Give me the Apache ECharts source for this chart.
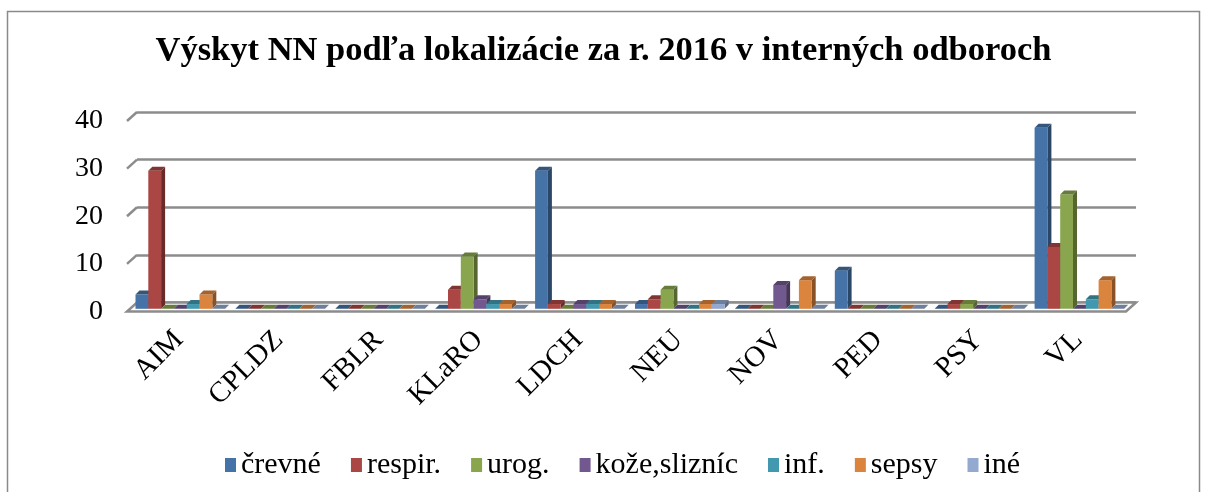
<!DOCTYPE html>
<html>
<head>
<meta charset="UTF-8">
<title>Výskyt NN</title>
<script src="https://cdn.jsdelivr.net/npm/echarts@6/dist/echarts.min.js"></script>
<style>
  html, body { margin: 0; padding: 0; background: #fff; }
  #chart { width: 1207px; height: 492px; }
</style>
</head>
<body>
<div id="chart"></div>
<script>
// data
var categories = ['AIM', 'CPLDZ', 'FBLR', 'KLaRO', 'LDCH', 'NEU', 'NOV', 'PED', 'PSY', 'VL'];
var seriesNames = ['črevné', 'respir.', 'urog.', 'kože,slizníc', 'inf.', 'sepsy', 'iné'];
var crevne   = [3, 0, 0, 0, 29, 1, 0, 8, 0, 38];
var respir   = [29, 0, 0, 4, 1, 2, 0, 0, 1, 13];
var urog     = [0, 0, 0, 11, 0, 4, 0, 0, 1, 24];
var koze     = [0, 0, 0, 2, 1, 0, 5, 0, 0, 0];
var inf      = [1, 0, 0, 1, 1, 0, 0, 0, 0, 2];
var sepsy    = [3, 0, 0, 1, 1, 1, 6, 0, 0, 6];
var ine      = [0, 0, 0, 0, 0, 1, 0, 0, 0, 0];
var yTicks   = [0, 10, 20, 30, 40];

var allValues = [crevne, respir, urog, koze, inf, sepsy, ine];
var colors = ['#4572A7', '#AA4643', '#89A54E', '#71588F', '#4198AF', '#DB843D', '#93A9CF'];

var FONT = '"Liberation Serif", "DejaVu Serif", serif';
var FX = 10, FY = 9;      // floor depth (front is shifted left/down)
var BX = 4, BY = 4;       // bar depth
var BW = 12.8;            // bar width
var GROUP_OFF = 5;        // offset of first bar inside category (back coords)

function shade(hex, k) {
    var c = echarts.color.parse(hex);
    return 'rgb(' + Math.round(c[0] * k) + ',' + Math.round(c[1] * k) + ',' + Math.round(c[2] * k) + ')';
}

function barRenderer(si) {
    return function (params, api) {
        var cat = api.value(0), v = api.value(1);
        var base = api.coord([cat, 0]);
        var top = api.coord([cat, v]);
        var band = api.size([1, 0])[0];
        var fx = FX * 0.65, fy = FY * 0.7;
        var x0 = base[0] - band / 2 + GROUP_OFF + si * BW - fx;
        var x1 = x0 + BW;
        var yb = base[1] + fy;
        var yt = top[1] + fy;
        var col = colors[si];
        var children = [];
        if (yb - yt > 0.5) {
            children.push({
                type: 'polygon',
                shape: { points: [[x1, yb], [x1 + BX, yb - BY], [x1 + BX, yt - BY], [x1, yt]] },
                style: { fill: shade(col, 0.62) }
            });
            children.push({
                type: 'rect',
                shape: { x: x0, y: yt, width: BW, height: yb - yt },
                style: { fill: col }
            });
        }
        children.push({
            type: 'polygon',
            shape: { points: [[x0, yt], [x0 + BX, yt - BY], [x1 + BX, yt - BY], [x1, yt]] },
            style: { fill: shade(col, 0.75) }
        });
        return { type: 'group', children: children };
    };
}

function floorRenderer(params, api) {
    var cs = params.coordSys;
    var y0 = api.coord([0, 0])[1];
    return {
        type: 'polygon',
        shape: { points: [[cs.x, y0], [cs.x + cs.width, y0], [cs.x + cs.width - FX, y0 + FY], [cs.x - FX, y0 + FY]] },
        style: { fill: '#fdfdfd', stroke: '#8c8c8c', lineWidth: 2.5 }
    };
}

// left-wall slash for each gridline plus the value label at the front edge
function tickRenderer(params, api) {
    var cs = params.coordSys;
    var v = api.value(1);
    var y = api.coord([0, v])[1];
    var children = [{
        type: 'text',
        style: {
            text: String(v), x: cs.x - 34, y: y + 9,
            align: 'right', verticalAlign: 'middle',
            font: '28px ' + FONT, fill: '#000'
        }
    }];
    if (v > 0) {
        children.push({
            type: 'line',
            shape: { x1: cs.x - FX, y1: y + FY, x2: cs.x, y2: y },
            style: { stroke: '#8c8c8c', lineWidth: 2.5 }
        });
    }
    return { type: 'group', children: children };
}

// rotated category labels, anchored a little left of the category centre (front edge)
function catLabelRenderer(params, api) {
    var ci = api.value(0);
    var p = api.coord([ci, 0]);
    return {
        type: 'text',
        x: p[0] - 8,
        y: p[1] + 33,
        rotation: Math.PI / 4,
        style: {
            text: categories[ci],
            align: 'right', verticalAlign: 'middle',
            font: '29px ' + FONT, fill: '#000'
        }
    };
}

var series = [
    {
        type: 'custom',
        name: 'floor',
        renderItem: floorRenderer,
        data: [[0, 0]],
        silent: true,
        z: 1
    },
    {
        type: 'custom',
        name: 'ticks',
        renderItem: tickRenderer,
        data: yTicks.map(function (t) { return [0, t]; }),
        silent: true,
        z: 1
    },
    {
        type: 'custom',
        name: 'catLabels',
        renderItem: catLabelRenderer,
        data: categories.map(function (c, ci) { return [ci, 0]; }),
        silent: true,
        z: 1
    }
];
allValues.forEach(function (vals, si) {
    series.push({
        type: 'custom',
        name: seriesNames[si],
        itemStyle: { color: colors[si] },
        renderItem: barRenderer(si),
        data: vals.map(function (v, ci) { return [ci, v]; }),
        z: 2 + si
    });
});

var myChart = echarts.init(document.getElementById('chart'));

var option = {
    animation: false,
    backgroundColor: '#fff',
    graphic: [{
        type: 'rect',
        shape: { x: 7.5, y: 11.5, width: 1192, height: 500 },
        style: { fill: null, stroke: '#8a8a8a', lineWidth: 1.5 },
        z: 0
    }],
    title: {
        text: 'Výskyt NN podľa lokalizácie za r. 2016 v interných odboroch',
        left: 'center',
        top: 29,
        textStyle: { fontFamily: FONT, fontSize: 34.5, fontWeight: 'bold', color: '#000' }
    },
    legend: {
        data: seriesNames,
        top: 445,
        left: 220,
        itemWidth: 11,
        itemHeight: 14,
        itemGap: 30,
        icon: 'rect',
        textStyle: { fontFamily: FONT, fontSize: 30, color: '#000' }
    },
    grid: { left: 137, right: 71, top: 112, bottom: 189.5, containLabel: false },
    xAxis: {
        type: 'category',
        data: categories,
        axisLine: { show: false },
        axisTick: { show: false },
        axisLabel: { show: false }
    },
    yAxis: {
        type: 'value',
        min: 0,
        max: 40,
        interval: 10,
        axisLine: { show: false },
        axisTick: { show: false },
        splitLine: { lineStyle: { color: '#8c8c8c', width: 2.5 } },
        axisLabel: { show: false }
    },
    series: series
};

myChart.setOption(option);
</script>
</body>
</html>
